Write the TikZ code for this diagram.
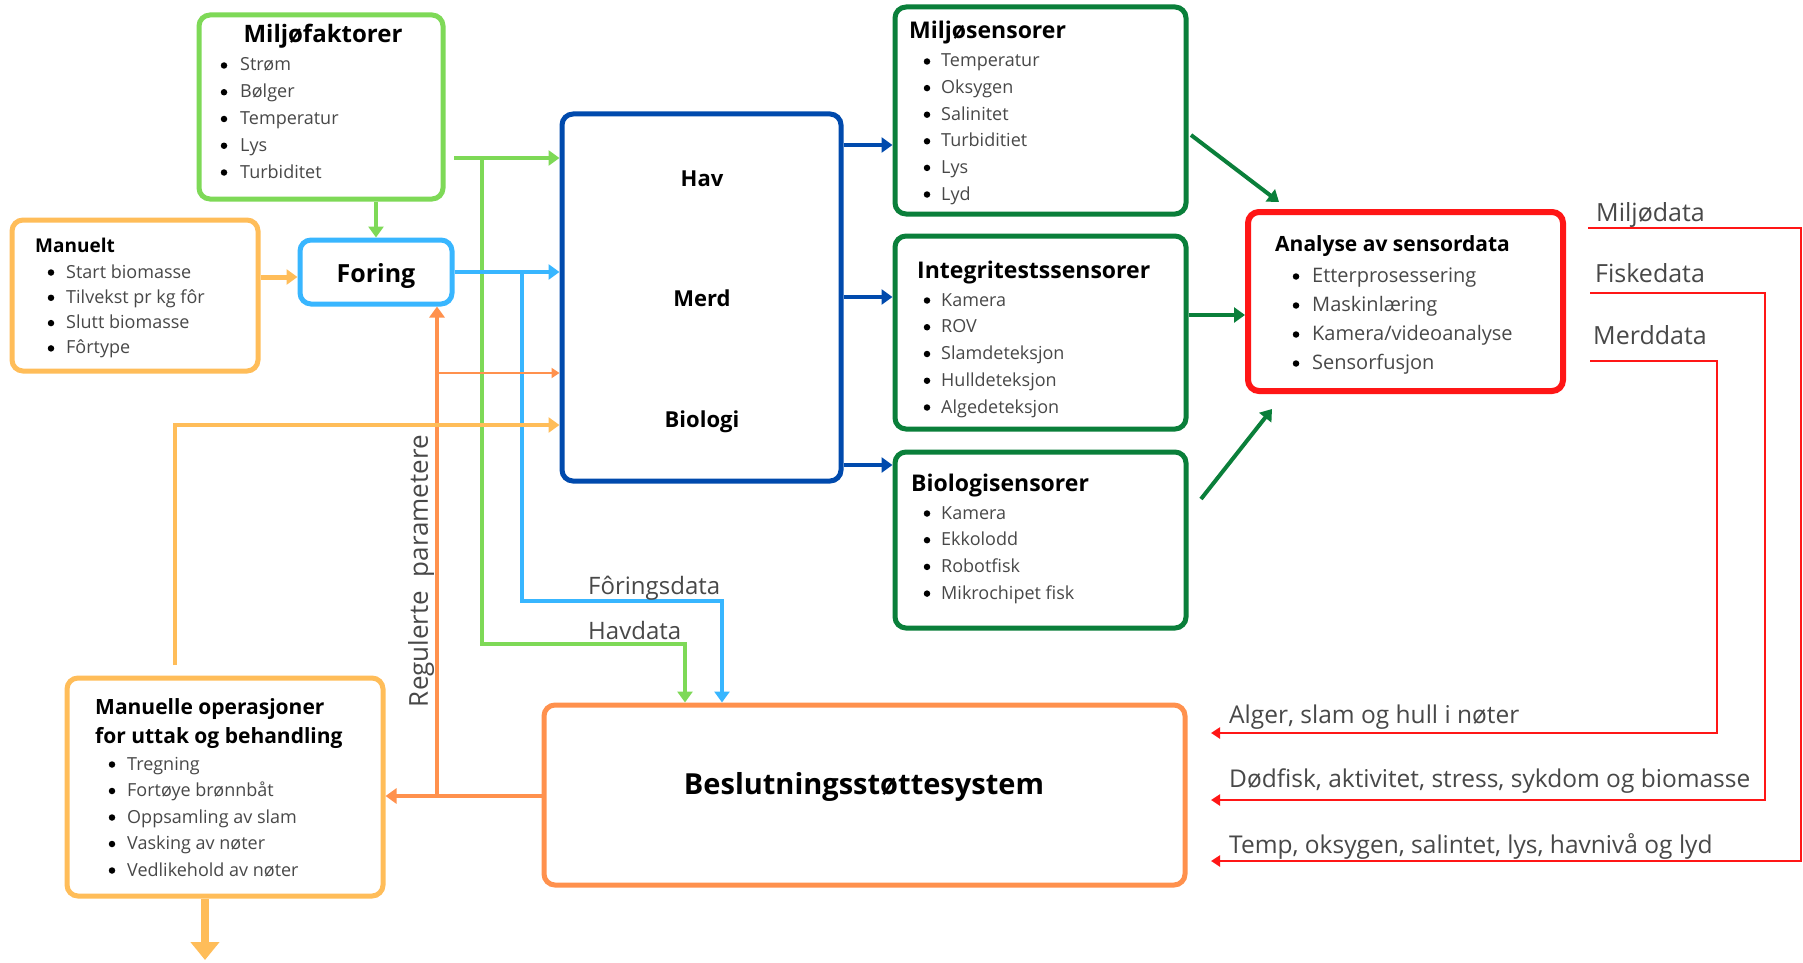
\documentclass[tikz,border=0pt]{standalone}
\usepackage{fontspec}
\setmainfont{Open Sans}
\usetikzlibrary{arrows.meta}

\definecolor{lgreen}{HTML}{7ED957}
\definecolor{dgreen}{HTML}{0A7F3A}
\definecolor{dblue}{HTML}{004AAD}
\definecolor{lblue}{HTML}{38B6FF}
\definecolor{lorange}{HTML}{FFBD59}
\definecolor{dorange}{HTML}{FF914D}
\definecolor{sred}{HTML}{FF1616}
\definecolor{txtgray}{HTML}{484848}

% bullet list: prefix, bullet x, text x, first baseline, spacing, items
\newcommand{\bulletrows}[6]{%
  \foreach \t [count=\i] in {#6} {%
    \node[dot] (#1d\i) at (#2,{#4+(\i-1)*#5-5.5}) {};
    \node[item] (#1t\i) at (#3,{#4+(\i-1)*#5}) {\t};
  }%
}

\begin{document}
\begin{tikzpicture}[x=1pt,y=-1pt,
  frame/.style={draw, line width=5pt, rounded corners=11pt, inner sep=0pt, fill=white},
  head/.style={anchor=base west, inner sep=0pt, font=\bfseries\fontsize{23}{26}\selectfont},
  item/.style={anchor=base west, inner sep=0pt, text=txtgray, font=\fontsize{18}{22}\selectfont},
  dot/.style={circle, fill=black, inner sep=0pt, minimum size=6.5pt},
  lbl/.style={anchor=base west, inner sep=0pt, text=txtgray, font=\fontsize{24.5}{28}\selectfont},
  link/.style={line width=4pt, -{Triangle[width=15pt,length=11pt]}},
  thinlink/.style={line width=2.5pt, -{Triangle[width=10pt,length=8pt]}},
  redlink/.style={draw=sred, line width=2.5pt, -{Triangle[width=11pt,length=9pt]}},
]
\fill[white] (0,0) rectangle (1803,963);
\useasboundingbox (0,0) rectangle (1803,963);

% ---------- boxes ----------
\node[frame, draw=lgreen,  minimum width=244pt, minimum height=184pt] (mf)  at (321,107) {};
\node[frame, draw=lorange, minimum width=246pt, minimum height=151pt] (man) at (135,295.5) {};
\node[frame, draw=lblue,   minimum width=152pt, minimum height=64pt]  (foring) at (376,272) {};
\node[frame, draw=dblue,   minimum width=279pt, minimum height=367pt] (hav) at (701.5,297.5) {};
\node[frame, draw=dgreen,  minimum width=291pt, minimum height=207pt] (ms)  at (1040.5,110.5) {};
\node[frame, draw=dgreen,  minimum width=291pt, minimum height=193pt] (is)  at (1040.5,332.5) {};
\node[frame, draw=dgreen,  minimum width=291pt, minimum height=176pt] (bs)  at (1040.5,540) {};
\node[frame, draw=sred, line width=6pt, minimum width=315pt, minimum height=179pt] (an) at (1405.5,301.5) {};
\node[frame, draw=dorange, minimum width=641pt, minimum height=180pt] (bes) at (864.5,795) {};
\node[frame, draw=lorange, minimum width=316pt, minimum height=218pt] (mo)  at (225,787) {};

% ---------- box contents ----------
\node[head, anchor=base, font=\bfseries\fontsize{24}{28}\selectfont] (mfh) at (323,43) {Miljøfaktorer};
\bulletrows{mf}{224}{240}{71}{26.75}{Strøm,Bølger,Temperatur,Lys,Turbiditet}

\node[head, font=\bfseries\fontsize{19}{22}\selectfont] (manh) at (35,252) {Manuelt};
\bulletrows{man}{51}{66}{278}{25.3}{Start biomasse,Tilvekst pr kg fôr,Slutt biomasse,Fôrtype}

\node[head, anchor=base, font=\bfseries\fontsize{25}{28}\selectfont] (forh) at (376,282) {Foring};

\node[head, anchor=base, font=\bfseries\fontsize{22}{26}\selectfont] (havh) at (702,186) {Hav};
\node[head, anchor=base, font=\bfseries\fontsize{22}{26}\selectfont] (merdh) at (702,306) {Merd};
\node[head, anchor=base, font=\bfseries\fontsize{22}{26}\selectfont] (bioh) at (702,427) {Biologi};

\node[head, font=\bfseries\fontsize{23}{26}\selectfont] (msh) at (909,39) {Miljøsensorer};
\bulletrows{ms}{927}{941}{67}{26.6}{Temperatur,Oksygen,Salinitet,Turbiditiet,Lys,Lyd}

\node[head, font=\bfseries\fontsize{23}{26}\selectfont] (ish) at (917,278) {Integritestssensorer};
\bulletrows{is}{927}{941}{306}{26.75}{Kamera,ROV,Slamdeteksjon,Hulldeteksjon,Algedeteksjon}

\node[head, font=\bfseries\fontsize{23}{26}\selectfont] (bsh) at (911,491) {Biologisensorer};
\bulletrows{bs}{927}{941}{519}{26.7}{Kamera,Ekkolodd,Robotfisk,Mikrochipet fisk}

\node[head, font=\bfseries\fontsize{21}{24}\selectfont] (anh) at (1275,251) {Analyse av sensordata};
\begin{scope}[item/.append style={font=\fontsize{20}{24}\selectfont}]
\bulletrows{an}{1296}{1312}{282}{29}{Etterprosessering,Maskinlæring,Kamera/videoanalyse,Sensorfusjon}
\end{scope}

\node[head, anchor=base, font=\bfseries\fontsize{29}{32}\selectfont] (besh) at (864,794) {Beslutningsstøttesystem};

\node[head, font=\bfseries\fontsize{21}{24}\selectfont] (moh1) at (95,714) {Manuelle operasjoner};
\node[head, font=\bfseries\fontsize{21}{24}\selectfont] (moh2) at (95,743) {for uttak og behandling};
\bulletrows{mo}{112}{127}{770}{26.5}{Tregning,Fortøye brønnbåt,Oppsamling av slam,Vasking av nøter,Vedlikehold av nøter}

% ---------- helper coordinates ----------
\coordinate (g0) at (454,158);
\coordinate (g1) at (482,158);
\coordinate (g2) at (482,644);
\coordinate (g3) at (685,644);
\coordinate (b1) at (522,272);
\coordinate (b2) at (522,601);
\coordinate (b3) at (722,601);
\coordinate (o1) at (437,796);
\coordinate (o2) at (437,373);
\coordinate (l0) at (175,665);
\coordinate (l1) at (175,425);
\coordinate (mo0) at (0,277);
\coordinate (dn) at (205,960);
\coordinate (y145) at (0,145);
\coordinate (y297) at (0,297);
\coordinate (y465) at (0,465);
\coordinate (y315) at (0,315);
\coordinate (d1a) at (1191,135);
\coordinate (d1b) at (1279,202);
\coordinate (d3a) at (1201,499);
\coordinate (d3b) at (1272,409);

% ---------- connectors ----------
\draw[link, lgreen] (foring.north |- mf.south) -- (foring.north);
\draw[link, lorange, line width=5pt] (man.east |- mo0) -- (foring.west |- mo0);

\draw[link, lgreen] (g0) -- (g0 -| hav.west);
\draw[link, lgreen] (g1) -- (g2) -- (g3) -- (g3 |- bes.north);

\draw[link, lblue] (foring.east) -- (foring.east -| hav.west);
\draw[link, lblue] (b1) -- (b2) -- (b3) -- (b3 |- bes.north);

\draw[link, dorange, line width=3.5pt] (o1 -| bes.west) -- (o1 -| mo.east);
\draw[link, dorange, line width=3.5pt] (o1) -- (o1 |- foring.south);
\draw[thinlink, dorange] (o2) -- (o2 -| hav.west);

\draw[link, lorange] (l0) -- (l1) -- (l1 -| hav.west);
\draw[lorange, line width=8pt, -{Triangle[width=28pt,length=18pt]}] (dn |- mo.south) -- (dn);

\draw[link, dblue] (hav.east |- y145) -- (ms.west |- y145);
\draw[link, dblue] (hav.east |- y297) -- (is.west |- y297);
\draw[link, dblue] (hav.east |- y465) -- (bs.west |- y465);

\draw[link, dgreen] (d1a) -- (d1b);
\draw[link, dgreen] (is.east |- y315) -- (an.west |- y315);
\draw[link, dgreen] (d3a) -- (d3b);

% ---------- red data lines ----------
\coordinate (r1a) at (1588,228);
\coordinate (r1b) at (1801,228);
\coordinate (r1c) at (1801,861);
\coordinate (r1d) at (1211,861);
\coordinate (r2a) at (1590,293);
\coordinate (r2b) at (1765,293);
\coordinate (r2c) at (1765,800);
\coordinate (r2d) at (1211,800);
\coordinate (r3a) at (1590,361);
\coordinate (r3b) at (1717,361);
\coordinate (r3c) at (1717,733);
\coordinate (r3d) at (1211,733);
\draw[redlink] (r1a) -- (r1b) -- (r1c) -- (r1d);
\draw[redlink] (r2a) -- (r2b) -- (r2c) -- (r2d);
\draw[redlink] (r3a) -- (r3b) -- (r3c) -- (r3d);

% ---------- labels ----------
\node[lbl, font=\fontsize{25}{28}\selectfont] (lmd) at (1596,221) {Miljødata};
\node[lbl, font=\fontsize{25}{28}\selectfont] (lfd) at (1595,282) {Fiskedata};
\node[lbl, font=\fontsize{25}{28}\selectfont] (lmr) at (1593,344) {Merddata};
\node[lbl] (la) at (1229,723) {Alger, slam og hull i nøter};
\node[lbl] (ld) at (1229,787) {Dødfisk, aktivitet, stress, sykdom og biomasse};
\node[lbl] (lt) at (1229,853) {Temp, oksygen, salintet, lys, havnivå og lyd};
\node[lbl, font=\fontsize{24}{28}\selectfont] (lfo) at (588,594) {Fôringsdata};
\node[lbl, font=\fontsize{24}{28}\selectfont] (lhv) at (588,639) {Havdata};
\node[lbl, anchor=center, rotate=90, font=\fontsize{26}{30}\selectfont] (lreg) at (421,571) {Regulerte\ \ parametere};

\end{tikzpicture}
\end{document}
